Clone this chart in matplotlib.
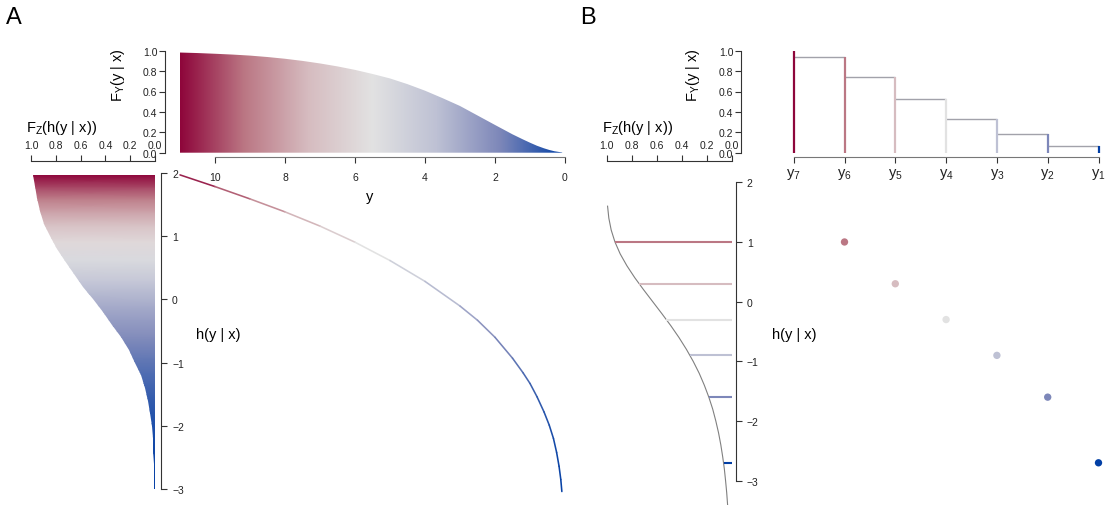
import numpy as np
import matplotlib
matplotlib.use("Agg")
import matplotlib.pyplot as plt
from matplotlib.colors import LinearSegmentedColormap, Normalize
from matplotlib.collections import LineCollection
from matplotlib.patches import Polygon

plt.rcParams['font.family'] = ['Liberation Sans', 'DejaVu Sans']
plt.rcParams['mathtext.default'] = 'regular'

W, H = 1105, 506

# diverging palette, y1 (blue) ... y7 (red)
pal = ["#023FA5", "#7D87B9", "#BEC1D4", "#E2E2E2", "#D6BCC0", "#BB7784", "#8E063B"]

### Panel A data

# transformation function h(y | x)
curve_y = [11.0, 10.0, 9.0, 8.0, 7.0, 6.0, 5.0, 4.0, 3.0, 2.5, 2.0, 1.5, 1.2, 1.0,
           0.8, 0.6, 0.45, 0.33, 0.24, 0.17, 0.12, 0.09]
curve_h = [1.97, 1.785, 1.59, 1.385, 1.16, 0.905, 0.615, 0.285, -0.105, -0.33, -0.60,
           -0.93, -1.16, -1.33, -1.54, -1.78, -1.99, -2.20, -2.42, -2.64, -2.85, -3.04]

# F_Y(y | x)
cdf_y = [11.0, 10.5, 10.0, 9.5, 9.0, 8.5, 8.0, 7.5, 7.0, 6.5, 6.0, 5.5, 5.0, 4.5, 4.0,
         3.5, 3.0, 2.5, 2.0, 1.5, 1.2, 1.0, 0.8, 0.6, 0.45, 0.3, 0.15, 0.08]
cdf_F = [0.982, 0.977, 0.970, 0.962, 0.952, 0.938, 0.921, 0.900, 0.875, 0.846, 0.812,
         0.772, 0.728, 0.672, 0.608, 0.535, 0.458, 0.365, 0.272, 0.180, 0.130, 0.098,
         0.068, 0.043, 0.027, 0.014, 0.006, 0.003]

# F_Z(h(y | x)), left margin
fz_h = [1.97, 1.8, 1.6, 1.4, 1.2, 1.0, 0.8, 0.6, 0.4, 0.2, 0.0, -0.2, -0.4, -0.6,
        -0.8, -1.0, -1.2, -1.4, -1.6, -1.8, -2.0, -2.2, -2.4, -2.6, -2.8, -3.0]
fz_F = [0.981, 0.970, 0.952, 0.926, 0.892, 0.847, 0.792, 0.728, 0.655, 0.579, 0.500,
        0.421, 0.345, 0.274, 0.212, 0.159, 0.115, 0.081, 0.055, 0.037, 0.025, 0.018,
        0.014, 0.012, 0.011, 0.010]

### Panel B data

b_k = [1, 2, 3, 4, 5, 6, 7]
b_labels = ["y$_1$", "y$_2$", "y$_3$", "y$_4$", "y$_5$", "y$_6$", "y$_7$"]
b_F = [0.065, 0.183, 0.335, 0.525, 0.742, 0.937, 1.0]
b_h = [-2.7, -1.6, -0.9, -0.3, 0.3, 1.0]

# F_Z curve in panel B
bz_h = [1.6, 1.4, 1.2, 1.0, 0.8, 0.6, 0.4, 0.2, 0.0, -0.2, -0.4, -0.6, -0.8, -1.0,
        -1.2, -1.4, -1.6, -1.8, -2.0, -2.2, -2.4, -2.6, -2.8, -3.0, -3.2, -3.4]
bz_F = [0.993, 0.983, 0.964, 0.934, 0.892, 0.838, 0.775, 0.705, 0.632, 0.559, 0.488,
        0.422, 0.362, 0.308, 0.260, 0.219, 0.183, 0.152, 0.127, 0.105, 0.087, 0.072,
        0.059, 0.049, 0.040, 0.033]

cmap = LinearSegmentedColormap.from_list("bluered", pal)
norm = Normalize(0, 11)
axcol = "#333333"


def px_axes(x0, y0, x1, y1):
    return fig.add_axes([x0 / W, 1 - y1 / H, (x1 - x0) / W, (y1 - y0) / H])


def lims(pa, va, pb, vb, e0, e1):
    """Data values at pixel e0, e1, given value va at pa and vb at pb."""
    s = (vb - va) / (pb - pa)
    return va + s * (e0 - pa), va + s * (e1 - pa)


def bare(ax):
    for s in ax.spines.values():
        s.set_visible(False)
    ax.set_xticks([])
    ax.set_yticks([])
    ax.patch.set_alpha(0)


def show_spines(ax, sides):
    for side in sides:
        ax.spines[side].set_visible(True)
        ax.spines[side].set_color(axcol)
        ax.spines[side].set_linewidth(0.8)


def ftext(x, y, s, **kw):
    fig.text(x / W, 1 - y / H, s, **kw)


fig = plt.figure(figsize=(W / 100, H / 100), dpi=100)

tick_kw = dict(direction='out', length=4, width=0.8, colors=axcol, labelsize=7.5,
               labelcolor='#222222')
prob_ticks = [0, 0.2, 0.4, 0.6, 0.8, 1.0]
prob_labels = ["0.0", "0.2", "0.4", "0.6", "0.8", "1.0"]

### A: F_Y(y | x)
axT = px_axes(165, 45, 575, 157.5)
bare(axT)
verts = list(zip(cdf_y, cdf_F)) + [(cdf_y[-1], 0), (cdf_y[0], 0)]
clipT = Polygon(verts, closed=True, facecolor='none', edgecolor='none')
axT.add_patch(clipT)
grad = np.linspace(0, 1, 512).reshape(1, -1)
im = axT.imshow(grad, extent=[0, 11, 0, 1], aspect='auto', cmap=cmap,
                origin='lower', interpolation='bilinear')
im.set_clip_path(clipT)
axT.set_xlim(*lims(215, 10, 565, 0, 165, 575))
axT.set_ylim(*lims(153.7, 0, 51.7, 1, 157.5, 45))
show_spines(axT, ('left', 'bottom'))
axT.spines['left'].set_bounds(0, 1)
axT.spines['bottom'].set_bounds(0, 10)
axT.spines['bottom'].set_color('#777777')
axT.set_yticks(prob_ticks, prob_labels)
axT.set_xticks([10, 8, 6, 4, 2, 0], ["10", "8", "6", "4", "2", "0"])
axT.tick_params(axis='y', pad=1.5, **tick_kw)
axT.tick_params(axis='x', pad=7, **tick_kw)

### A: F_Z margin
axL = px_axes(20, 162.3, 161, 498)
bare(axL)
verts = list(zip(fz_F, fz_h)) + [(0, fz_h[-1]), (0, fz_h[0])]
clipL = Polygon(verts, closed=True, facecolor='none', edgecolor='none')
axL.add_patch(clipL)
# colour follows y, i.e. the position along the transformation curve
hh = np.array(curve_h)[::-1]
yy = np.array(curve_y)[::-1]
X, Y = np.meshgrid([-0.1, 1.1], hh)
C = np.tile(yy[:, None], (1, 2))
mesh = axL.pcolormesh(X, Y, C, shading='gouraud', cmap=cmap, norm=norm)
mesh.set_clip_path(clipL)
axL.set_xlim(*lims(31, 1, 155, 0, 20, 161))
axL.set_ylim(*lims(174, 2, 490, -3, 498, 162.3))
show_spines(axL, ('top', 'right'))
axL.spines['top'].set_bounds(0, 1)
axL.spines['right'].set_bounds(-3, 2)
axL.xaxis.tick_top()
axL.yaxis.tick_right()
axL.set_xticks(prob_ticks[::-1], prob_labels[::-1])
axL.set_yticks([2, 1, 0, -1, -2, -3])
axL.tick_params(axis='x', pad=4, **tick_kw)
axL.tick_params(axis='y', pad=4, **tick_kw)

### A: h(y | x)
axC = px_axes(165, 162.3, 575, 498)
bare(axC)
pts = np.column_stack([curve_y, curve_h])
segs = np.stack([pts[:-1], pts[1:]], axis=1)
mid = (pts[:-1, 0] + pts[1:, 0]) / 2
lc = LineCollection(segs, colors=cmap(norm(mid)), linewidths=1.15, capstyle='round')
axC.add_collection(lc)
axC.set_xlim(*lims(215, 10, 565, 0, 165, 575))
axC.set_ylim(*lims(174, 2, 490, -3, 498, 162.3))

### B: discrete F_Y
axBT = px_axes(741, 45, 1104, 157.5)
bare(axBT)
axBT.hlines(b_F[:-1], b_k[:-1], b_k[1:], color='#a2a2aa', linewidth=1.0)
axBT.vlines(b_k, 0, b_F, colors=pal, linewidth=1.6)
axBT.set_xlim(*lims(793.7, 7, 1098.5, 1, 741, 1104))
axBT.set_ylim(*lims(153.7, 0, 51.7, 1, 157.5, 45))
show_spines(axBT, ('left', 'bottom'))
axBT.spines['left'].set_bounds(0, 1)
axBT.spines['bottom'].set_bounds(1, 7)
axBT.spines['bottom'].set_color('#777777')
axBT.set_yticks(prob_ticks, prob_labels)
axBT.set_xticks(b_k, b_labels)
axBT.tick_params(axis='y', pad=1.5, **tick_kw)
axBT.tick_params(axis='x', pad=3, **tick_kw)
axBT.tick_params(axis='x', labelsize=10.5)

### B: F_Z margin
axBL = px_axes(595, 162.3, 735.7, 506)
bare(axBL)
axBL.plot(bz_F, bz_h, color='#808080', linewidth=0.8)
axBL.hlines(b_h, b_F[:6], 0, colors=pal[:6], linewidth=1.5)
axBL.set_xlim(*lims(606.7, 1, 731.7, 0, 595, 735.7))
axBL.set_ylim(*lims(183.3, 2, 481.7, -3, 506, 162.3))
show_spines(axBL, ('top', 'right'))
axBL.spines['top'].set_bounds(0, 1)
axBL.spines['right'].set_bounds(-3, 2)
axBL.xaxis.tick_top()
axBL.yaxis.tick_right()
axBL.set_xticks(prob_ticks[::-1], prob_labels[::-1])
axBL.set_yticks([2, 1, 0, -1, -2, -3])
axBL.tick_params(axis='x', pad=4, **tick_kw)
axBL.tick_params(axis='y', pad=4, **tick_kw)

### B: h(y_k | x)
axBC = px_axes(741, 162.3, 1104, 506)
bare(axBC)
axBC.scatter(b_k[:6], b_h, c=pal[:6], s=28, linewidths=0, zorder=3)
axBC.set_xlim(*lims(793.7, 7, 1098.5, 1, 741, 1104))
axBC.set_ylim(*lims(183.3, 2, 481.7, -3, 506, 162.3))

### labels
ftext(6, 18, "A", fontsize=17, ha='left', va='center')
ftext(580, 18, "B", fontsize=17, ha='left', va='center')
for fy_x, fz_x, h_x in [(118, 26, 196), (693, 602, 772)]:
    ftext(fy_x, 75, "F$_Y$(y | x)", fontsize=10.5, rotation=90, ha='center', va='center')
    ftext(fz_x, 128, "F$_Z$(h(y | x))", fontsize=10.5, ha='left', va='center')
    ftext(h_x, 335, "h(y | x)", fontsize=10.5, ha='left', va='center')
ftext(370, 197, "y", fontsize=10.5, ha='center', va='center')

fig.savefig("out.png", dpi=100)
